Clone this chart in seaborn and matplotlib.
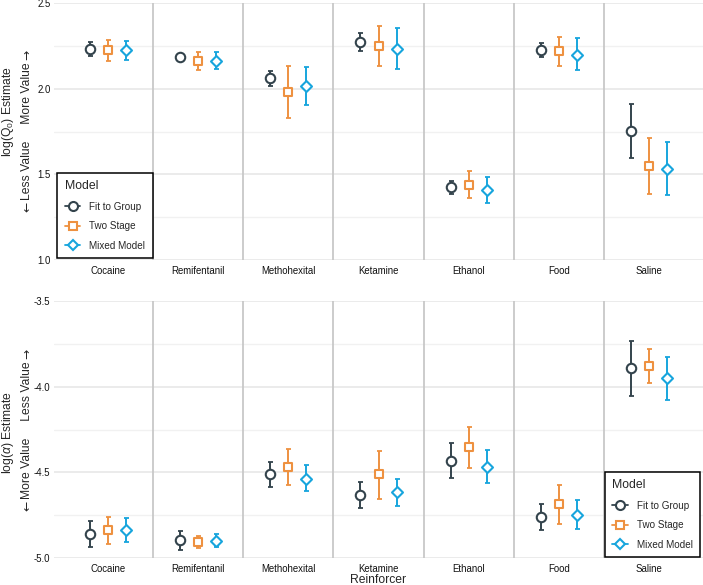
import numpy as np
import pandas as pd
import matplotlib
matplotlib.use("Agg")
import matplotlib.pyplot as plt
import seaborn as sns
from matplotlib.lines import Line2D

# ---------------- data ----------------
reinforcers = ["Cocaine", "Remifentanil", "Methohexital", "Ketamine", "Ethanol", "Food", "Saline"]
models = ["Fit to Group", "Two Stage", "Mixed Model"]

q0_fit = [2.232, 2.183, 2.063, 2.270, 1.425, 2.224, 1.754]
q0_fit_lo = [2.193, 2.165, 2.018, 2.222, 1.386, 2.183, 1.598]
q0_fit_hi = [2.270, 2.200, 2.105, 2.323, 1.464, 2.267, 1.911]
q0_two = [2.224, 2.164, 1.981, 2.251, 1.439, 2.218, 1.546]
q0_two_lo = [2.164, 2.109, 1.831, 2.134, 1.359, 2.134, 1.384]
q0_two_hi = [2.282, 2.216, 2.130, 2.366, 1.518, 2.303, 1.711]
q0_mix = [2.224, 2.164, 2.018, 2.233, 1.407, 2.199, 1.534]
q0_mix_lo = [2.170, 2.117, 1.907, 2.113, 1.330, 2.107, 1.378]
q0_mix_hi = [2.276, 2.212, 2.124, 2.356, 1.483, 2.294, 1.689]

a_fit = [-4.860, -4.897, -4.512, -4.635, -4.431, -4.763, -3.892]
a_fit_lo = [-4.936, -4.951, -4.586, -4.708, -4.534, -4.839, -4.052]
a_fit_hi = [-4.782, -4.841, -4.438, -4.559, -4.330, -4.687, -3.731]
a_two = [-4.839, -4.907, -4.468, -4.512, -4.355, -4.685, -3.879]
a_two_lo = [-4.916, -4.944, -4.576, -4.654, -4.477, -4.800, -3.976]
a_two_hi = [-4.763, -4.870, -4.361, -4.374, -4.234, -4.574, -3.782]
a_mix = [-4.839, -4.899, -4.536, -4.617, -4.468, -4.747, -3.951]
a_mix_lo = [-4.909, -4.938, -4.609, -4.699, -4.563, -4.831, -4.075]
a_mix_hi = [-4.769, -4.860, -4.460, -4.539, -4.368, -4.660, -3.824]

q0_ticks = [1.0, 1.5, 2.0, 2.5]
a_ticks = [-5.0, -4.5, -4.0, -3.5]

# ---------------- style ----------------
sns.set_theme(style="white")
plt.rcParams["font.family"] = ["Liberation Sans", "DejaVu Sans"]
plt.rcParams["mathtext.fontset"] = "custom"
plt.rcParams["mathtext.rm"] = "Liberation Sans"
plt.rcParams["mathtext.it"] = "Liberation Sans:italic"

colors = {"Fit to Group": "#33434C", "Two Stage": "#EE9140", "Mixed Model": "#17A5DD"}
markers = {"Fit to Group": "o", "Two Stage": "s", "Mixed Model": "D"}
msizes = {"Fit to Group": 6.8, "Two Stage": 6.2, "Mixed Model": 5.6}
offsets = {"Fit to Group": -0.2, "Two Stage": 0.0, "Mixed Model": 0.2}

def build(vals):
    rows = []
    for m, (est, lo, hi) in zip(models, vals):
        for r, e, l, h in zip(reinforcers, est, lo, hi):
            rows.append(dict(Reinforcer=r, Model=m, est=e, lo=l, hi=h))
    return pd.DataFrame(rows)

df_q0 = build([(q0_fit, q0_fit_lo, q0_fit_hi), (q0_two, q0_two_lo, q0_two_hi), (q0_mix, q0_mix_lo, q0_mix_hi)])
df_a = build([(a_fit, a_fit_lo, a_fit_hi), (a_two, a_two_lo, a_two_hi), (a_mix, a_mix_lo, a_mix_hi)])

W, H = 703, 585
fig = plt.figure(figsize=(W / 100, H / 100), dpi=100)
ax1 = fig.add_axes([54 / W, 1 - 260 / H, (703 - 54) / W, 257 / H])
ax2 = fig.add_axes([54 / W, 1 - 558 / H, (703 - 54) / W, 257 / H])

def draw(ax, df, ticks, legend_loc, legend_anchor):
    xpos = {r: i for i, r in enumerate(reinforcers)}
    for t in ticks:
        ax.axhline(t, color="#e9e9e9", lw=1.3, zorder=0)
    for t0, t1 in zip(ticks[:-1], ticks[1:]):
        ax.axhline((t0 + t1) / 2, color="#f1f1f1", lw=1.0, zorder=0)
    for i in range(len(reinforcers) - 1):
        ax.axvline(i + 0.5, color="#c8c8c8", lw=1.3, zorder=0.5)
    for m in models:
        sub = df[df.Model == m]
        x = np.array([xpos[r] for r in sub.Reinforcer]) + offsets[m]
        y = sub.est.values
        ax.errorbar(x, y, yerr=[y - sub.lo.values, sub.hi.values - y], fmt="none",
                    ecolor=colors[m], elinewidth=1.4, capsize=1.8, capthick=1.3, zorder=2)
        sns.scatterplot(x=x, y=y, ax=ax, marker=markers[m], s=msizes[m] ** 2,
                        facecolor="white", edgecolor=colors[m], linewidth=1.5, zorder=3,
                        legend=False)
    ax.set_xlim(-0.6, len(reinforcers) - 0.4)
    ax.set_ylim(ticks[0], ticks[-1])
    ax.set_xticks(range(len(reinforcers)))
    ax.set_xticklabels(reinforcers, fontsize=6.9, color="#111111")
    ax.set_yticks(ticks)
    ax.set_yticklabels([f"{t:.1f}" for t in ticks], fontsize=6.9, color="#111111")
    ax.tick_params(axis="x", length=0, pad=4)
    ax.tick_params(axis="y", length=0, pad=2.5)
    for s in ax.spines.values():
        s.set_visible(False)
    ax.set_xlabel("")
    ax.set_ylabel("")
    handles = [Line2D([0], [0], color=colors[m], marker=markers[m], markersize=msizes[m] - 0.3,
                      markerfacecolor="white", markeredgewidth=1.5, lw=1.3) for m in models]
    leg = ax.legend(handles, models, title="Model", loc=legend_loc, bbox_to_anchor=legend_anchor,
                    borderaxespad=0, fontsize=7.1, title_fontsize=8.8, frameon=True,
                    framealpha=1.0, fancybox=False, edgecolor="black", handlelength=1.6,
                    handletextpad=0.9, labelspacing=0.95, borderpad=0.75)
    leg.get_frame().set_linewidth(1.1)
    leg._legend_box.align = "left"
    leg.set_zorder(5)

draw(ax1, df_q0, q0_ticks, "lower left", (0.005, 0.008))
draw(ax2, df_a, a_ticks, "lower right", (0.996, 0.004))

# y labels (two lines each); arrows drawn in DejaVu Sans at the ends of the text
fig.canvas.draw()
renderer = fig.canvas.get_renderer()

def arrow_label(xpx, ycpx, text, fs=8.7):
    t = fig.text(xpx / W, 1 - ycpx / H, text, rotation=90, ha="center", va="center", fontsize=fs)
    bb = t.get_window_extent(renderer)
    fig.text(xpx / W, (bb.y0 - 2) / H, "\u2190", rotation=90, ha="center", va="top",
             fontsize=fs, family="DejaVu Sans")
    fig.text(xpx / W, (bb.y1 + 2) / H, "\u2192", rotation=90, ha="center", va="bottom",
             fontsize=fs, family="DejaVu Sans")

fig.text(8 / W, 1 - 112 / H, r"log(Q$_0$) Estimate", rotation=90, ha="center", va="center", fontsize=8.7)
arrow_label(27, 131, "Less Value     More Value")
fig.text(8 / W, 1 - 432 / H, r"log($\alpha$) Estimate", rotation=90, ha="center", va="center", fontsize=8.7)
arrow_label(27, 430, "More Value     Less Value")
fig.text((54 + 703) / 2 / W, 1 - 580 / H, "Reinforcer", ha="center", va="center", fontsize=8.7)

fig.savefig("out.png", dpi=100)
